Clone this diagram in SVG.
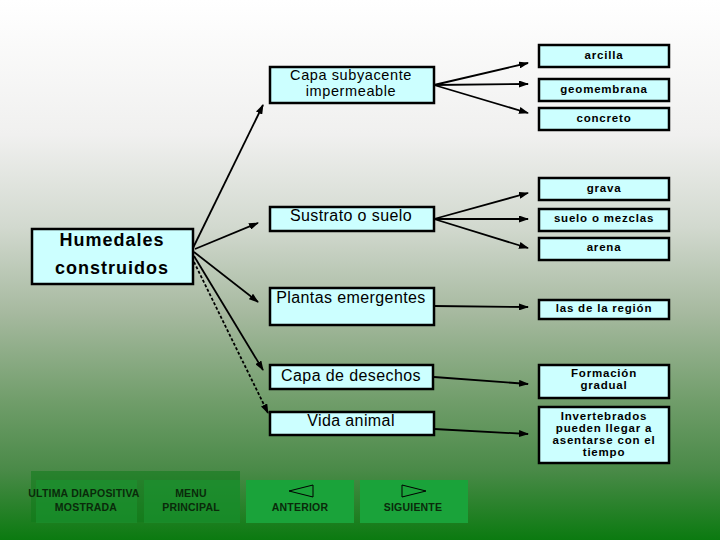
<svg xmlns="http://www.w3.org/2000/svg" width="720" height="540" viewBox="0 0 720 540">
<defs>
<linearGradient id="bg" x1="0" y1="0" x2="0" y2="1">
<stop offset="0" stop-color="#ffffff"/>
<stop offset="0.25" stop-color="#f0f0ef"/>
<stop offset="0.42" stop-color="#d2d9cf"/>
<stop offset="0.58" stop-color="#a6b99f"/>
<stop offset="0.75" stop-color="#6e9c68"/>
<stop offset="0.87" stop-color="#4a8a48"/>
<stop offset="1" stop-color="#0b7a10"/>
</linearGradient>
<marker id="ah" markerWidth="10" markerHeight="7" refX="9" refY="3.5" orient="auto" markerUnits="userSpaceOnUse">
<path d="M0,0 L10,3.5 L0,7 Z" fill="#000"/>
</marker>
<style>
.box{fill:#ccffff;stroke:#000;stroke-width:2.5}
.t{font-family:"Liberation Sans",Arial,sans-serif;fill:#000;text-anchor:middle}
.s{font-size:11.5px;font-weight:bold;letter-spacing:0.8px}
.m{font-size:16px;letter-spacing:0.4px}
.m2{font-size:14.5px;letter-spacing:0.6px}
.h{font-size:18px;font-weight:bold;letter-spacing:1px}
.c line{stroke:#000;stroke-width:1.8;marker-end:url(#ah)}
.btn{fill:#1aa33a}
.bt{font-family:"Liberation Sans",Arial,sans-serif;font-size:10.5px;font-weight:bold;text-anchor:middle;fill:#0a2a0a;letter-spacing:0.2px}
</style>
</defs>
<rect width="720" height="540" fill="url(#bg)"/>

<g class="c">
<line x1="193" y1="248" x2="263" y2="105"/>
<line x1="195" y1="249" x2="258" y2="223"/>
<line x1="194" y1="252" x2="258" y2="302"/>
<line x1="194" y1="256" x2="263" y2="370"/>
<line x1="194" y1="262" x2="268" y2="413" stroke-dasharray="3,2"/>
<line x1="434" y1="85" x2="528" y2="63"/>
<line x1="434" y1="85" x2="528" y2="84"/>
<line x1="434" y1="85" x2="528" y2="113"/>
<line x1="434" y1="219" x2="528" y2="193"/>
<line x1="434" y1="219" x2="528" y2="219"/>
<line x1="434" y1="219" x2="528" y2="248"/>
<line x1="434" y1="306" x2="528" y2="307"/>
<line x1="434" y1="377" x2="528" y2="384"/>
<line x1="434" y1="429" x2="528" y2="434"/>
</g>

<g id="humedales"><rect class="box" x="32" y="229" width="161" height="55"/>
<text class="t h" x="112" y="246">Humedales</text>
<text class="t h" x="112" y="274">construidos</text></g>

<g id="capa-sub"><rect class="box" x="270" y="67" width="164" height="36"/>
<text class="t m2" x="351" y="80">Capa subyacente</text>
<text class="t m2" x="351" y="96">impermeable</text></g>
<g id="sustrato"><rect class="box" x="270" y="207" width="164" height="24"/>
<text class="t m" x="351" y="221">Sustrato o suelo</text></g>
<g id="plantas"><rect class="box" x="270" y="288" width="164" height="37"/>
<text class="t m" x="351" y="303">Plantas emergentes</text></g>
<g id="desechos"><rect class="box" x="270" y="365" width="163" height="24"/>
<text class="t m" x="351" y="381">Capa de desechos</text></g>
<g id="vida"><rect class="box" x="270" y="412" width="164" height="23"/>
<text class="t m" x="351" y="426">Vida animal</text></g>

<g id="arcilla"><rect class="box" x="539" y="45" width="130" height="22"/>
<text class="t s" x="604" y="59">arcilla</text></g>
<g id="geomembrana"><rect class="box" x="539" y="79" width="130" height="22"/>
<text class="t s" x="604" y="93">geomembrana</text></g>
<g id="concreto"><rect class="box" x="539" y="108" width="130" height="22"/>
<text class="t s" x="604" y="122">concreto</text></g>
<g id="grava"><rect class="box" x="539" y="178" width="130" height="22"/>
<text class="t s" x="604" y="192">grava</text></g>
<g id="suelo"><rect class="box" x="539" y="209" width="130" height="22"/>
<text class="t s" x="604" y="222">suelo o mezclas</text></g>
<g id="arena"><rect class="box" x="539" y="238" width="130" height="22"/>
<text class="t s" x="604" y="251">arena</text></g>
<g id="region"><rect class="box" x="539" y="300" width="130" height="19"/>
<text class="t s" x="604" y="312">las de la región</text></g>
<g id="formacion"><rect class="box" x="539" y="365" width="130" height="33"/>
<text class="t s" x="604" y="377">Formación</text>
<text class="t s" x="604" y="389">gradual</text></g>
<g id="invertebrados"><rect class="box" x="539" y="407" width="130" height="56"/>
<text class="t s" x="604" y="420">Invertebrados</text>
<text class="t s" x="604" y="432">pueden llegar a</text>
<text class="t s" x="604" y="444">asentarse con el</text>
<text class="t s" x="604" y="456">tiempo</text></g>

<g id="botones">
<rect x="31" y="471" width="209" height="51" fill="#0f7a1a" opacity="0.55"/>
<rect x="36" y="480" width="101" height="43" fill="#1a9430" opacity="0.6"/>
<rect x="144" y="480" width="96" height="43" fill="#1a9430" opacity="0.6"/>
<text class="bt" x="84" y="497">ULTIMA DIAPOSITIVA</text>
<text class="bt" x="86" y="511">MOSTRADA</text>
<text class="bt" x="191" y="497">MENU</text>
<text class="bt" x="191" y="511">PRINCIPAL</text>
<rect class="btn" x="246" y="480" width="108" height="43"/>
<path d="M289,491 L313,485 L313,497 Z" fill="none" stroke="#000" stroke-width="1"/>
<text class="bt" x="300" y="511">ANTERIOR</text>
<rect class="btn" x="360" y="480" width="108" height="43"/>
<path d="M402,485 L402,497 L426,491 Z" fill="none" stroke="#000" stroke-width="1"/>
<text class="bt" x="413" y="511">SIGUIENTE</text>
</g>
</svg>
